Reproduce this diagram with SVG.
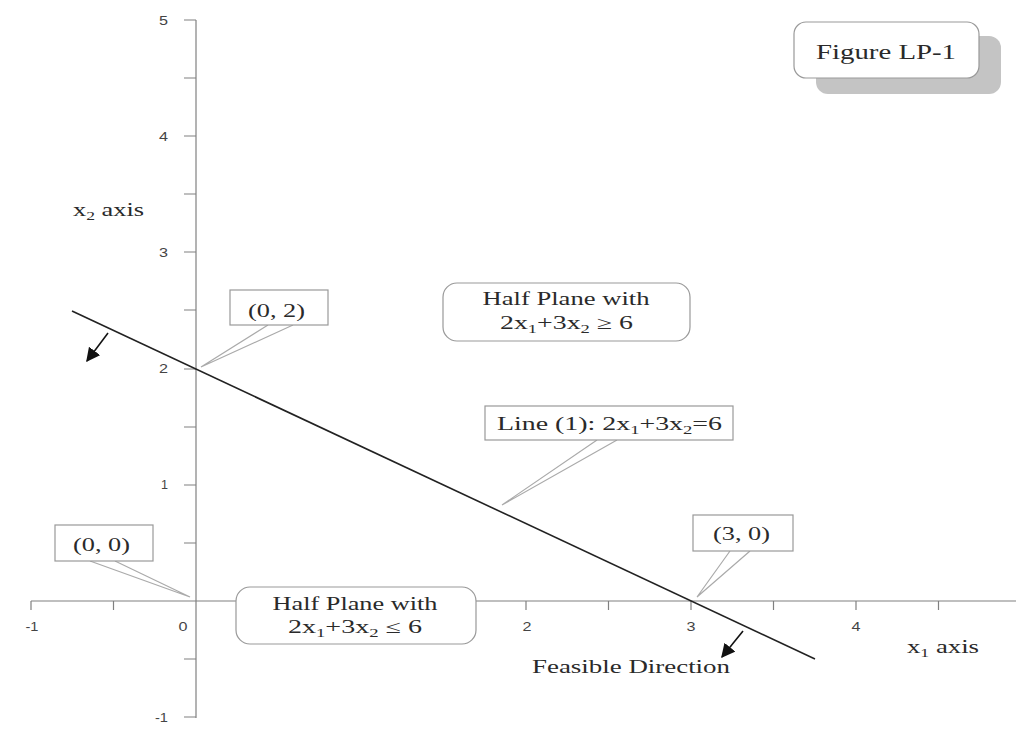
<svg xmlns="http://www.w3.org/2000/svg" width="1016" height="732" viewBox="0 0 1016 732">
<style>
.ax{stroke:#808080;stroke-width:1.2;fill:none}
.tk{font-family:"Liberation Sans",Arial,sans-serif;font-size:12px;fill:#444}
.lb{font-family:"Liberation Serif","Times New Roman",serif;font-size:18px;fill:#2a2a2a}
.box{fill:#fff;stroke:#999;stroke-width:1.2}
.ptr{stroke:#aaa;stroke-width:1.2;fill:none}
.sub{font-size:12px}
</style>
<defs>
<marker id="ah" viewBox="0 0 10 10" refX="9" refY="5" markerWidth="14" markerHeight="14" markerUnits="userSpaceOnUse" orient="auto">
<path d="M0,0 L10,5 L0,10 z" fill="#111"/>
</marker>
</defs>
<rect width="1016" height="732" fill="#fff"/>
<g id="axes">
<line class="ax" x1="31" y1="601" x2="1016" y2="601"/>
<line class="ax" x1="196" y1="20" x2="196" y2="718"/>
<path class="ax" d="M31,601v9M113.5,601v9M278.5,601v9M361,601v9M443.5,601v9M526,601v9M608.5,601v9M691,601v9M773.5,601v9M856,601v9M938.5,601v9"/>
<path class="ax" d="M184,20h12M184,78h12M184,136h12M184,194h12M184,252h12M184,310h12M184,369h12M184,427h12M184,485h12M184,543h12M184,659h12M184,717h12"/>
<g class="tk" text-anchor="end">
<text x="168" y="25" textLength="9" lengthAdjust="spacingAndGlyphs">5</text>
<text x="168" y="141" textLength="9" lengthAdjust="spacingAndGlyphs">4</text>
<text x="168" y="257" textLength="9" lengthAdjust="spacingAndGlyphs">3</text>
<text x="168" y="373" textLength="9" lengthAdjust="spacingAndGlyphs">2</text>
<text x="168" y="489" textLength="7" lengthAdjust="spacingAndGlyphs">1</text>
<text x="168" y="722" textLength="13" lengthAdjust="spacingAndGlyphs">-1</text>
</g>
<g class="tk" text-anchor="middle">
<text x="32" y="631" textLength="13" lengthAdjust="spacingAndGlyphs">-1</text>
<text x="183" y="631" textLength="9" lengthAdjust="spacingAndGlyphs">0</text>
<text x="527" y="631" textLength="9" lengthAdjust="spacingAndGlyphs">2</text>
<text x="691" y="631" textLength="9" lengthAdjust="spacingAndGlyphs">3</text>
<text x="856" y="631" textLength="9" lengthAdjust="spacingAndGlyphs">4</text>
</g>
<text class="lb" x="73" y="216" textLength="71" lengthAdjust="spacingAndGlyphs">x<tspan class="sub" dy="4">2</tspan><tspan dy="-4"> axis</tspan></text>
<text class="lb" x="907" y="653" textLength="72" lengthAdjust="spacingAndGlyphs">x<tspan class="sub" dy="4">1</tspan><tspan dy="-4"> axis</tspan></text>
</g>
<g id="connectors">
<line x1="72" y1="311" x2="815" y2="659" stroke="#222" stroke-width="1.6"/>
<line x1="108" y1="333" x2="87" y2="361" stroke="#111" stroke-width="1.6" marker-end="url(#ah)"/>
<line x1="743" y1="631" x2="722" y2="657" stroke="#111" stroke-width="1.6" marker-end="url(#ah)"/>
<path class="ptr" d="M268,325L201,367L293,325"/>
<path class="ptr" d="M597,440L502,505L617,440"/>
<path class="ptr" d="M90,561L190,597L115,561"/>
<path class="ptr" d="M730,551L697,597L750,551"/>
</g>
<g id="figure-label">
<rect x="816" y="36" width="185" height="58" rx="12" fill="#c4c4c4"/>
<rect class="box" x="794" y="22" width="185" height="56" rx="12"/>
<text class="lb" x="886" y="59" text-anchor="middle" textLength="140" lengthAdjust="spacingAndGlyphs" style="font-size:20px">Figure LP-1</text>
</g>
<g id="point-0-2">
<rect class="box" x="230" y="290" width="98" height="35"/>
<text class="lb" x="276.5" y="317" text-anchor="middle" textLength="57" lengthAdjust="spacingAndGlyphs">(0, 2)</text>
</g>
<g id="half-plane-ge">
<rect class="box" x="443" y="283" width="247" height="58" rx="14"/>
<text class="lb" x="566" y="305" text-anchor="middle" textLength="167" lengthAdjust="spacingAndGlyphs">Half Plane with</text>
<text class="lb" x="500" y="329" textLength="133" lengthAdjust="spacingAndGlyphs">2x<tspan class="sub" dy="4">1</tspan><tspan dy="-4">+3x</tspan><tspan class="sub" dy="4">2</tspan><tspan dy="-4"> ≥ 6</tspan></text>
</g>
<g id="line-1">
<rect class="box" x="485" y="406" width="248" height="34"/>
<text class="lb" x="497" y="430" textLength="225" lengthAdjust="spacingAndGlyphs">Line (1):  2x<tspan class="sub" dy="4">1</tspan><tspan dy="-4">+3x</tspan><tspan class="sub" dy="4">2</tspan><tspan dy="-4">=6</tspan></text>
</g>
<g id="point-0-0">
<rect class="box" x="55" y="525" width="98" height="36"/>
<text class="lb" x="101.5" y="551" text-anchor="middle" textLength="57" lengthAdjust="spacingAndGlyphs">(0, 0)</text>
</g>
<g id="half-plane-le">
<rect class="box" x="236" y="587" width="240" height="57" rx="14"/>
<text class="lb" x="355" y="610" text-anchor="middle" textLength="165" lengthAdjust="spacingAndGlyphs">Half Plane with</text>
<text class="lb" x="288" y="633" textLength="134" lengthAdjust="spacingAndGlyphs">2x<tspan class="sub" dy="4">1</tspan><tspan dy="-4">+3x</tspan><tspan class="sub" dy="4">2</tspan><tspan dy="-4"> ≤ 6</tspan></text>
</g>
<g id="point-3-0">
<rect class="box" x="693" y="515" width="100" height="36"/>
<text class="lb" x="741.5" y="540" text-anchor="middle" textLength="57" lengthAdjust="spacingAndGlyphs">(3, 0)</text>
</g>
<g id="feasible-direction">
<text class="lb" x="532" y="673" textLength="198" lengthAdjust="spacingAndGlyphs">Feasible Direction</text>
</g>
</svg>
